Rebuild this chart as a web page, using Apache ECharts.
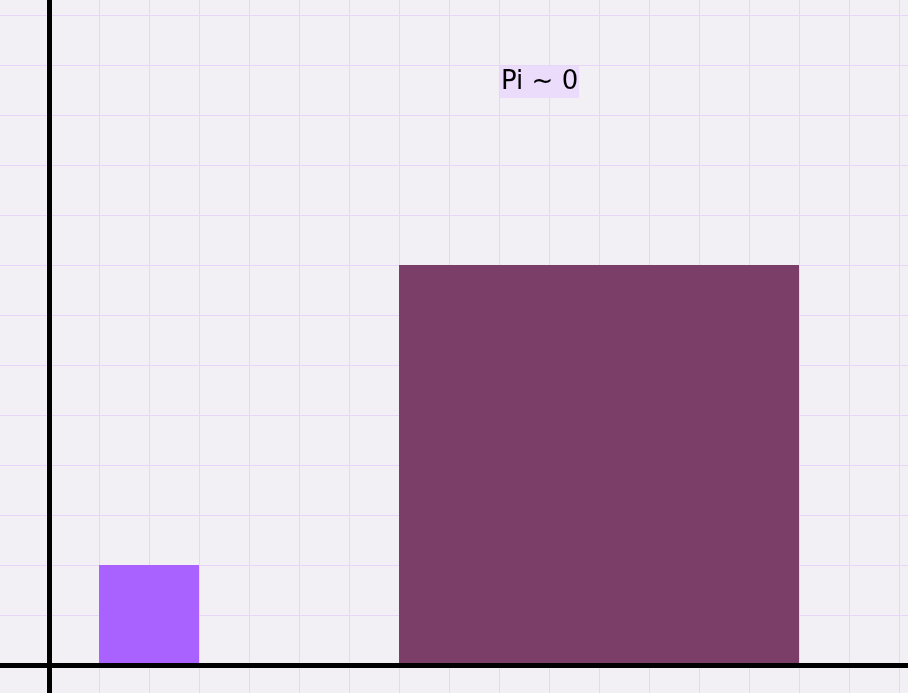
<!DOCTYPE html>
<html>
<head>
<meta charset="utf-8">
<script src="https://cdn.jsdelivr.net/npm/echarts@6/dist/echarts.min.js"></script>
<style>
  html, body { margin: 0; padding: 0; background: #f2eff5; overflow: hidden; width: 908px; height: 693px; position: relative; }
  /* the plot runs past the window edges, so the chart box is bigger and shifted */
  #chart { position: absolute; left: -51px; top: -35px; width: 1000px; height: 750px; }
</style>
</head>
<body>
<div id="chart"></div>
<script>
// bars: left edge, right edge, height (data units)
const barStarts = [1, 7]
const barEnds = [3, 15]
const barHeights = [2, 8]
// annotation
const noteText = ['Pi ~ 0']
const noteX = [9]
const noteY = [12]
// axis ranges
const xRange = [-2, 18]
const yRange = [-1, 14]

const barColors = ['#a962ff', '#7b3e69']
const gridColor = '#e8d6f8'

const myChart = echarts.init(document.getElementById('chart'))

const gridPos = { left: 0, right: 0, top: 0, bottom: 0 }

const option = {
  backgroundColor: '#f2eff5',
  animation: false,
  grid: [
    Object.assign({}, gridPos),
    Object.assign({}, gridPos)
  ],
  xAxis: [
    {
      type: 'value', gridIndex: 0, min: xRange[0], max: xRange[1], interval: 1,
      axisLine: { show: false }, axisTick: { show: false }, axisLabel: { show: false },
      splitLine: { show: true, lineStyle: { color: gridColor, width: 1 } }
    },
    {
      type: 'value', gridIndex: 1, min: xRange[0], max: xRange[1], interval: 1, z: 5,
      axisLine: { show: true, onZero: true, lineStyle: { color: '#000', width: 5 } },
      axisTick: { show: false }, axisLabel: { show: false }, splitLine: { show: false }
    }
  ],
  yAxis: [
    {
      type: 'value', gridIndex: 0, min: yRange[0], max: yRange[1], interval: 1,
      axisLine: { show: false }, axisTick: { show: false }, axisLabel: { show: false },
      splitLine: { show: true, lineStyle: { color: gridColor, width: 1 } }
    },
    {
      type: 'value', gridIndex: 1, min: yRange[0], max: yRange[1], interval: 1, z: 5,
      axisLine: { show: true, onZero: true, lineStyle: { color: '#000', width: 5 } },
      axisTick: { show: false }, axisLabel: { show: false }, splitLine: { show: false }
    }
  ],
  series: [
    {
      type: 'custom',
      xAxisIndex: 0,
      yAxisIndex: 0,
      z: 2,
      data: barStarts.map((s, i) => [s, barEnds[i], barHeights[i], i]),
      renderItem(params, api) {
        const p0 = api.coord([api.value(0), api.value(2)])
        const p1 = api.coord([api.value(1), 0])
        return {
          type: 'rect',
          shape: { x: p0[0], y: p0[1], width: p1[0] - p0[0], height: p1[1] - p0[1] },
          style: { fill: barColors[api.value(3)] }
        }
      }
    },
    {
      type: 'custom',
      xAxisIndex: 1,
      yAxisIndex: 1,
      z: 6,
      data: noteText.map((t, i) => [noteX[i], noteY[i], t]),
      renderItem(params, api) {
        const p = api.coord([api.value(0), api.value(1)])
        return {
          type: 'text',
          x: p[0] + 1,
          y: p[1] + 1,
          style: {
            text: noteText[params.dataIndex],
            fill: '#000',
            font: '26px "DejaVu Sans"',
            align: 'left',
            verticalAlign: 'top',
            backgroundColor: '#ecdcfc',
            padding: [3, 1, 3, 1]
          }
        }
      }
    }
  ]
}
myChart.setOption(option)
</script>
</body>
</html>
